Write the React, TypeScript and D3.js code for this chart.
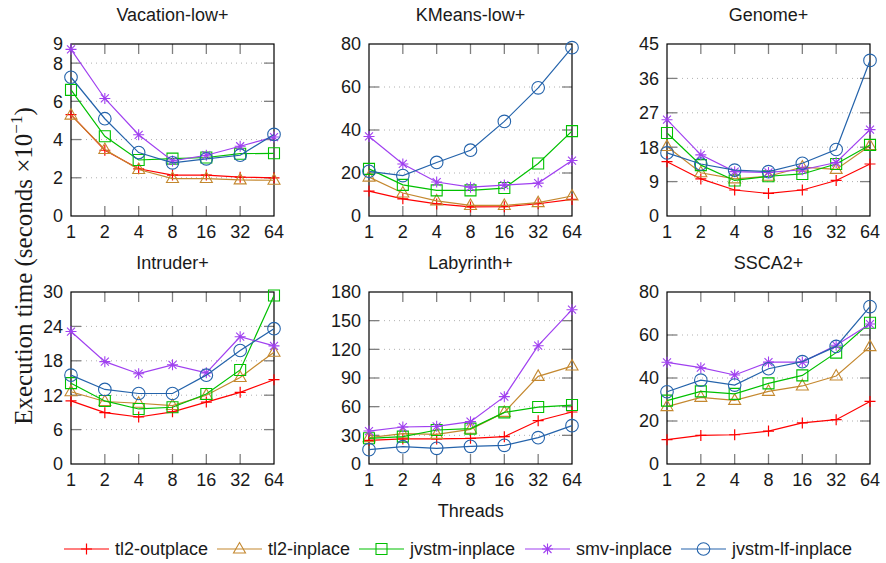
import * as d3 from "d3";

// thread counts on the x axis
const threads = ["1", "2", "4", "8", "16", "32", "64"];

const seriesNames = ["tl2-outplace", "tl2-inplace", "jvstm-inplace", "smv-inplace", "jvstm-lf-inplace"];
const seriesColors = ["#ff0000", "#c4882f", "#00c000", "#a040f0", "#2463ab"];
const seriesMarkers = ["plus", "triangle", "square", "star", "circle"];

const titles = ["Vacation-low+", "KMeans-low+", "Genome+", "Intruder+", "Labyrinth+", "SSCA2+"];

const yTicks = [
    [0, 2, 4, 6, 8, 9],
    [0, 20, 40, 60, 80],
    [0, 9, 18, 27, 36, 45],
    [0, 6, 12, 18, 24, 30],
    [0, 30, 60, 90, 120, 150, 180],
    [0, 20, 40, 60, 80],
];

// values per series, in the order of seriesNames
const vacationLow = [
    [5.3, 3.44, 2.47, 2.14, 2.14, 2.03, 2.0],
    [5.28, 3.48, 2.43, 1.96, 1.96, 1.89, 1.87],
    [6.6, 4.17, 2.93, 3.0, 3.06, 3.26, 3.28],
    [8.72, 6.15, 4.25, 2.88, 3.18, 3.65, 4.13],
    [7.26, 5.09, 3.32, 2.78, 2.99, 3.18, 4.27],
];
const kmeansLow = [
    [11.6, 8.0, 5.6, 4.2, 4.3, 5.7, 7.7],
    [18.1, 10.7, 7.0, 4.9, 4.9, 6.2, 9.3],
    [21.9, 14.5, 11.9, 11.9, 13.0, 24.4, 39.5],
    [37.0, 24.2, 15.8, 13.4, 14.4, 15.3, 25.8],
    [20.8, 18.8, 24.9, 30.6, 44.0, 59.6, 78.3],
];
const genome = [
    [14.2, 9.7, 6.8, 5.9, 6.8, 9.3, 13.6],
    [18.2, 11.3, 9.7, 10.4, 12.8, 12.2, 18.4],
    [21.7, 13.3, 9.3, 10.4, 11.0, 13.6, 18.6],
    [25.2, 16.0, 11.6, 11.4, 12.1, 14.0, 22.6],
    [16.5, 13.6, 12.0, 11.6, 13.8, 17.4, 40.7],
];
const intruder = [
    [11.0, 8.95, 8.2, 9.1, 10.8, 12.5, 14.7],
    [12.6, 10.9, 10.6, 10.2, 12.0, 15.1, 19.5],
    [14.1, 11.0, 9.6, 9.9, 12.2, 16.4, 29.4],
    [23.1, 17.85, 15.75, 17.3, 15.9, 22.2, 20.6],
    [15.5, 13.0, 12.3, 12.3, 15.5, 19.8, 23.6],
];
const labyrinth = [
    [24.8, 26.2, 26.2, 26.9, 28.6, 45.3, 54.4],
    [27.6, 31.7, 31.0, 36.3, 54.0, 91.7, 102.5],
    [26.9, 28.6, 35.6, 37.0, 54.0, 59.6, 61.7],
    [34.5, 38.7, 39.4, 44.3, 70.5, 123.8, 161.5],
    [15.0, 18.1, 16.4, 18.5, 19.5, 27.6, 40.1],
];
const ssca2 = [
    [11.3, 13.3, 13.6, 15.3, 19.1, 20.6, 29.1],
    [26.7, 31.0, 29.6, 33.8, 36.3, 40.9, 54.6],
    [29.5, 33.8, 32.6, 37.5, 41.2, 51.8, 65.7],
    [47.3, 44.8, 41.4, 47.4, 47.4, 55.2, 65.1],
    [33.6, 39.0, 36.7, 44.3, 47.6, 54.7, 73.2],
];

const panelData = [vacationLow, kmeansLow, genome, intruder, labyrinth, ssca2];

const width = 886;
const height = 563;
const colLeft = [71, 369, 667];
const rowTop = [44, 292];
const plotW = 203;
const plotH = 172;
const sans = "'Liberation Sans', Arial, Helvetica, sans-serif";

function Marker({ kind, color }: { kind: string; color: string }) {
    if (kind === "plus") return <path d="M-5.5,0H5.5M0,-5.5V5.5" stroke={color} strokeWidth={1.2} fill="none" />;
    if (kind === "triangle") return <path d="M0,-6.5L6,4L-6,4Z" stroke={color} strokeWidth={1.1} fill="none" />;
    if (kind === "square") return <path d="M-5.5,-5.5h11v11h-11z" stroke={color} strokeWidth={1.1} fill="none" />;
    if (kind === "star")
        return (
            <path d="M-5.5,0H5.5M0,-5.5V5.5M-4,-4L4,4M-4,4L4,-4" stroke={color} strokeWidth={1.1} fill="none" />
        );
    return <circle r={6.3} stroke={color} strokeWidth={1.1} fill="none" />;
}

function Panel({ index }: { index: number }) {
    const left = colLeft[index % 3];
    const top = rowTop[Math.floor(index / 3)];
    const ticks = yTicks[index];
    const yMax = ticks[ticks.length - 1];

    const x = d3.scalePoint<string>().domain(threads).range([left, left + plotW]);
    const y = d3.scaleLinear().domain([0, yMax]).range([top + plotH, top]);
    const line = d3
        .line<number>()
        .x((d, i) => x(threads[i]) as number)
        .y((d) => y(d));

    const inner = ticks.filter((t) => t > 0 && t < yMax);

    return (
        <g>
            <text x={left + plotW / 2} y={top - 23.5} textAnchor="middle" fontSize={18} fill="#1a1a1a">
                {titles[index]}
            </text>
            {/* grid */}
            {inner.map((t) => (
                <line
                    key={"g" + t}
                    x1={left}
                    x2={left + plotW}
                    y1={y(t)}
                    y2={y(t)}
                    stroke="#b0b0b0"
                    strokeWidth={1}
                    strokeDasharray="1,4"
                />
            ))}
            {/* tick marks */}
            {inner.map((t) => (
                <g key={"yt" + t} stroke="#808080" strokeWidth={1.3}>
                    <line x1={left} x2={left + 10} y1={y(t)} y2={y(t)} />
                    <line x1={left + plotW - 10} x2={left + plotW} y1={y(t)} y2={y(t)} />
                </g>
            ))}
            {threads.slice(1, -1).map((t) => (
                <g key={"xt" + t} stroke="#808080" strokeWidth={1.3}>
                    <line x1={x(t)} x2={x(t)} y1={top + plotH} y2={top + plotH - 10} />
                    <line x1={x(t)} x2={x(t)} y1={top} y2={top + 10} />
                </g>
            ))}
            <rect x={left} y={top} width={plotW} height={plotH} fill="none" stroke="#000" strokeWidth={1.2} />
            {/* tick labels */}
            {ticks.map((t) => (
                <text key={"yl" + t} x={left - 8} y={y(t)} dy="0.36em" textAnchor="end" fontSize={18} fill="#1a1a1a">
                    {t}
                </text>
            ))}
            {threads.map((t) => (
                <text key={"xl" + t} x={x(t)} y={top + plotH + 21.5} textAnchor="middle" fontSize={18} fill="#1a1a1a">
                    {t}
                </text>
            ))}
            {/* series */}
            {panelData[index].map((vals, s) => (
                <g key={"s" + s}>
                    <path d={line(vals) || ""} fill="none" stroke={seriesColors[s]} strokeWidth={1.2} />
                    {vals.map((v, i) => (
                        <g key={i} transform={`translate(${x(threads[i])},${y(v)})`}>
                            <Marker kind={seriesMarkers[s]} color={seriesColors[s]} />
                        </g>
                    ))}
                </g>
            ))}
        </g>
    );
}

// legend positions (line start x) for each series
const legendX = [64, 217, 359, 525, 681];

export default function App() {
    return (
        <svg
            width={width}
            height={height}
            style={{ position: "absolute", left: 0, top: 0, background: "#fff" }}
            fontFamily={sans}
        >
            <rect width={width} height={height} fill="#fff" />
            {titles.map((t, i) => (
                <Panel key={t} index={i} />
            ))}
            <text
                transform="translate(32,266) rotate(-90)"
                textAnchor="middle"
                fontFamily="'Liberation Serif', 'Times New Roman', serif"
                fontSize={25}
                fill="#1a1a1a"
            >
                Execution time (seconds ×10
                <tspan dy={-10} fontSize={17}>
                    −1
                </tspan>
                <tspan dy={10}>)</tspan>
            </text>
            <text x={470.8} y={517} textAnchor="middle" fontSize={18} fill="#1a1a1a">
                Threads
            </text>
            {seriesNames.map((n, s) => (
                <g key={n} transform={`translate(${legendX[s]},549)`}>
                    <line x1={0} x2={45} y1={0} y2={0} stroke={seriesColors[s]} strokeWidth={1.2} />
                    <g transform="translate(22.5,0)">
                        <Marker kind={seriesMarkers[s]} color={seriesColors[s]} />
                    </g>
                    <text x={51} y={0} dy="0.36em" fontSize={18} fill="#1a1a1a">
                        {n}
                    </text>
                </g>
            ))}
        </svg>
    );
}
